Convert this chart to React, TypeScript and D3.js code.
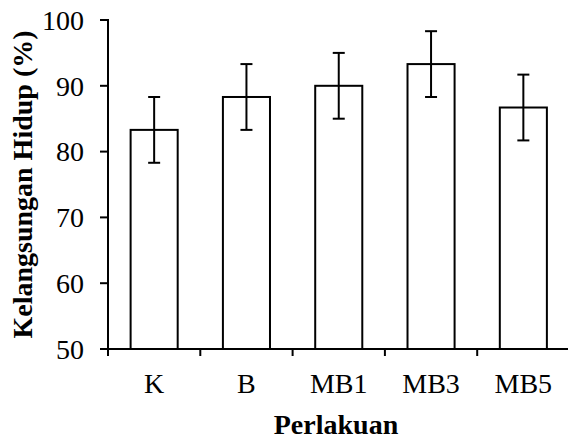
import React from "react";
import * as d3 from "d3";

const categories = ["K", "B", "MB1", "MB3", "MB5"];
const values = [83.3, 88.3, 90.0, 93.3, 86.7];
const errors = [5.0, 5.0, 5.0, 5.0, 5.0];
const yTicks = [50, 60, 70, 80, 90, 100];

const W = 568;
const H = 441;
const left = 108;
const right = 569.5;
const top = 20;
const bottom = 349;
const font = "'Liberation Serif', 'Times New Roman', serif";

export default function App() {
  const x = d3.scaleBand<string>().domain(categories).range([left, right]).padding(0);
  const y = d3.scaleLinear().domain([50, 100]).range([bottom, top]);
  const bw = x.bandwidth() * 0.51;
  const capHalf = 6;
  const boundaries = categories.map((c) => x(c)!).concat([right]);

  return (
    <svg
      width={W}
      height={H}
      style={{ position: "absolute", left: 0, top: 0, background: "#fff" }}
    >
      <rect x={0} y={0} width={W} height={H} fill="#fff" />
      {categories.map((c, i) => {
        const cx = x(c)! + x.bandwidth() / 2;
        return (
          <g key={c}>
            <rect
              x={cx - bw / 2}
              y={y(values[i])}
              width={bw}
              height={bottom - y(values[i])}
              fill="#fff"
              stroke="#000"
              strokeWidth={2}
            />
            <line x1={cx} x2={cx} y1={y(values[i] + errors[i])} y2={y(values[i] - errors[i])} stroke="#000" strokeWidth={2} />
            <line x1={cx - capHalf} x2={cx + capHalf} y1={y(values[i] + errors[i])} y2={y(values[i] + errors[i])} stroke="#000" strokeWidth={2} />
            <line x1={cx - capHalf} x2={cx + capHalf} y1={y(values[i] - errors[i])} y2={y(values[i] - errors[i])} stroke="#000" strokeWidth={2} />
          </g>
        );
      })}
      <line x1={left} x2={left} y1={top - 1} y2={bottom + 7} stroke="#000" strokeWidth={2} />
      {yTicks.map((t) => (
        <g key={t}>
          <line x1={left - 8} x2={left} y1={y(t)} y2={y(t)} stroke="#000" strokeWidth={2} />
          <text
            x={left - 24}
            y={y(t)}
            dy="0.35em"
            textAnchor="end"
            fontFamily={font}
            fontSize={28}
            fill="#000"
          >
            {t}
          </text>
        </g>
      ))}
      <line x1={left} x2={right} y1={bottom} y2={bottom} stroke="#000" strokeWidth={2} />
      {boundaries.slice(1).map((bx, i) => (
        <line key={i} x1={bx} x2={bx} y1={bottom} y2={bottom + 7} stroke="#000" strokeWidth={2} />
      ))}
      {categories.map((c) => (
        <text
          key={c}
          x={x(c)! + x.bandwidth() / 2}
          y={393}
          textAnchor="middle"
          fontFamily={font}
          fontSize={28}
          fill="#000"
        >
          {c}
        </text>
      ))}
      <text
        x={336}
        y={434}
        textAnchor="middle"
        fontFamily={font}
        fontSize={28}
        fontWeight="bold"
        fill="#000"
      >
        Perlakuan
      </text>
      <text
        transform={`translate(32, ${(top + bottom) / 2}) rotate(-90)`}
        textAnchor="middle"
        fontFamily={font}
        fontSize={28}
        fontWeight="bold"
        fill="#000"
      >
        Kelangsungan Hidup (%)
      </text>
    </svg>
  );
}
